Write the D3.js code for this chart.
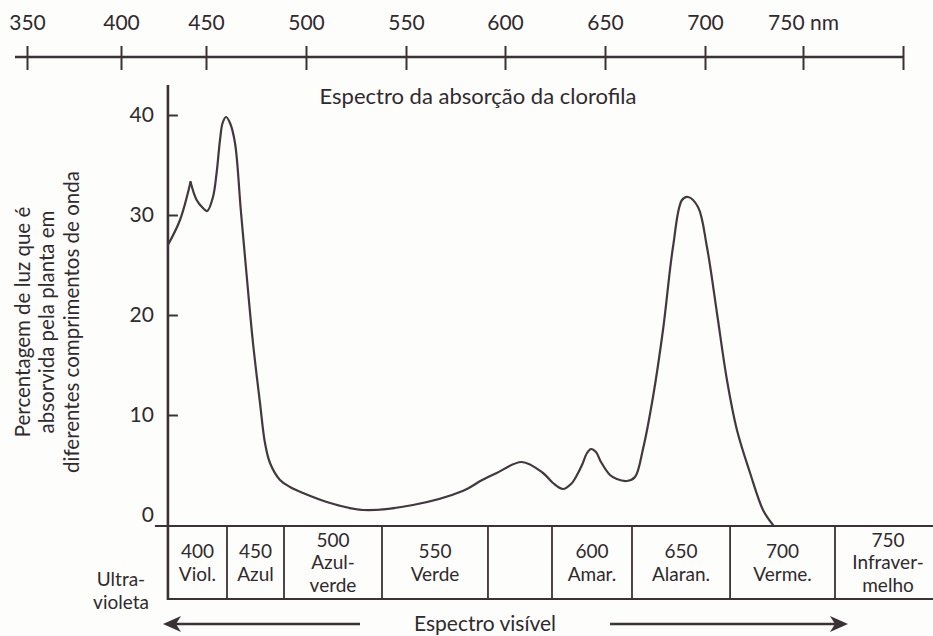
<!DOCTYPE html>
<html>
<head>
<meta charset="utf-8">
<script src="https://cdn.jsdelivr.net/npm/d3@7"></script>
<style>
  html, body { margin: 0; padding: 0; background: #fdfdfc; }
  svg { display: block; }
  text { font-family: Lato, "Open Sans", sans-serif; fill: #2f2a2d; }
</style>
</head>
<body>
<svg id="chart" width="933" height="636"></svg>
<script>
// Top wavelength scale (nm)
const topTicks = [350, 400, 450, 500, 550, 600, 650, 700, 750];
const topTickLabels = ["350", "400", "450", "500", "550", "600", "650", "700", "750 nm"];

// Absorption axis (%)
const yTicks = [0, 10, 20, 30, 40];

// Chlorophyll absorption curve; the violet shoulder ends in a sharp cusp
const cuspWavelength = 440.9;
const wavelengths = [427.6, 434.7, 440.9, 444.5, 448.2, 450.6, 453.5, 455.3, 457.0, 458.3,
  460.0, 462.0, 464.5, 467.4, 470.4, 473.5, 477.0, 479.5, 482.0, 487.0,
  492.0, 498.5, 512.0, 528.5, 553.5, 578.6, 588.5, 595.8, 608.4, 619.0,
  624.0, 629.0, 633.0, 636.0, 638.5, 641.0, 643.0, 645.5, 648.0,
  652.5, 655.9, 660.9, 665.0, 669.0, 674.0, 679.0, 684.0, 688.5, 691.5,
  696.5, 701.0, 706.1, 711.2, 716.3, 723.0, 729.6, 734.7];
const absorption = [27.0, 29.5, 33.3, 31.5, 30.7, 30.4, 31.8, 34.2, 37.5, 39.2,
  39.8, 39.2, 37.2, 30.5, 23.8, 17.2, 11.2, 7.2, 5.2, 3.5,
  2.8, 2.2, 1.2, 0.5, 1.0, 2.4, 3.5, 4.2, 5.3, 4.2,
  3.2, 2.6, 3.1, 4.0, 5.0, 6.2, 6.6, 6.3, 5.3,
  4.0, 3.6, 3.4, 3.8, 6.6, 11.8, 18.5, 26.8, 31.5, 31.8,
  30.8, 26.8, 20.2, 13.5, 8.5, 4.2, 0.5, -1.0];

// Colour bands of the spectrum (edges in nm) and their labels
const bandEdges = [427.6, 460.5, 489, 538, 591.4, 623.5, 663.5, 712.8, 766, 816];
const bandLabels = [
  ["400", "Viol."],
  ["450", "Azul"],
  ["500", "Azul-", "verde"],
  ["550", "Verde"],
  [],
  ["600", "Amar."],
  ["650", "Alaran."],
  ["700", "Verme."],
  ["750", "Infraver-", "melho"]
];
const outsideLabel = ["Ultra-", "violeta"];

const title = "Espectro da absorção da clorofila";
const yTitle = ["Percentagem de luz que é", "absorvida pela planta em", "diferentes comprimentos de onda"];
const visibleLabel = "Espectro visível";

const ink = "#3a3236";
const fontSize = "21px";
const rowFont = "19px";
const rowLeading = 23;
const svg = d3.select("#chart");

// The printed wavelength ruler is not evenly spaced at its short end
const x = d3.scaleLinear()
  .domain([350, 400, 450, 500, 550, 600, 650, 700, 750, 800])
  .range([27, 121, 206, 306, 406, 505, 605, 705, 803, 903]);

const y = d3.scaleLinear().domain([0, 40]).range([515, 115]);

const axisX = x(bandEdges[0]);
const baseY = y(0) + 11;      // top of the band row
const rowBottom = baseY + 73; // bottom of the band row
const arrowY = 624;

// ---- top wavelength axis ----
const topAxisY = 57;
const gTop = svg.append("g").attr("transform", `translate(0,${topAxisY})`);
gTop.append("line")
  .attr("x1", x(350) - 12).attr("x2", x(800))
  .attr("stroke", ink).attr("stroke-width", 2.6);
gTop.call(d3.axisTop(x).tickValues(topTicks.concat([800])).tickSize(11)
    .tickFormat((d, i) => i < topTickLabels.length ? topTickLabels[i] : ""))
  .call(g => g.select(".domain").remove())
  .call(g => g.selectAll(".tick line").attr("y1", 13).attr("stroke", ink).attr("stroke-width", 2))
  .call(g => g.selectAll(".tick text")
      .attr("y", -27).attr("dy", "0")
      .style("font-size", fontSize).style("font-family", "Lato, sans-serif").attr("fill", "#2f2a2d"));

// ---- left absorption axis ----
const gLeft = svg.append("g").attr("transform", `translate(${axisX},0)`);
gLeft.append("line")
  .attr("y1", y(43)).attr("y2", rowBottom + 1)
  .attr("stroke", ink).attr("stroke-width", 2.6);
gLeft.call(d3.axisLeft(y).tickValues(yTicks).tickSize(-10).tickPadding(14))
  .call(g => g.select(".domain").remove())
  .call(g => g.selectAll(".tick line").attr("stroke", ink).attr("stroke-width", 2))
  .call(g => g.selectAll(".tick").filter(d => d === 0).select("line").remove())
  .call(g => g.selectAll(".tick text")
      .style("font-size", fontSize).style("font-family", "Lato, sans-serif").attr("fill", "#2f2a2d"));

// axis title, three rotated lines
const yt = svg.append("text")
  .attr("transform", `translate(47,322) rotate(-90)`)
  .attr("text-anchor", "middle")
  .style("font-size", "20.5px");
yTitle.forEach((t, i) => {
  yt.append("tspan").attr("x", 0).attr("y", (i - 1) * 24.5 + 7).text(t);
});

// chart title
svg.append("text")
  .attr("x", 478).attr("y", 104)
  .attr("text-anchor", "middle")
  .style("font-size", "22px")
  .text(title);

// ---- band row ----
svg.append("line")
  .attr("x1", axisX - 13).attr("x2", 933)
  .attr("y1", baseY).attr("y2", baseY)
  .attr("stroke", ink).attr("stroke-width", 2.2);
svg.append("line")
  .attr("x1", axisX).attr("x2", 933)
  .attr("y1", rowBottom).attr("y2", rowBottom)
  .attr("stroke", ink).attr("stroke-width", 2.2);

svg.append("g").selectAll("line")
  .data(bandEdges.slice(1, -1))
  .join("line")
  .attr("x1", d => x(d)).attr("x2", d => x(d))
  .attr("y1", baseY).attr("y2", rowBottom)
  .attr("stroke", ink).attr("stroke-width", 1.8);

const bandMid = (baseY + rowBottom) / 2;
const bands = svg.append("g").selectAll("text")
  .data(bandLabels.map((lines, i) => ({ lines, x0: bandEdges[i], x1: bandEdges[i + 1] })))
  .join("text")
  .attr("text-anchor", "middle")
  .style("font-size", rowFont);
bands.each(function (d) {
  const cx = d.x1 > 800 ? 888 : (x(d.x0) + x(d.x1)) / 2;
  const n = d.lines.length;
  const lead = n > 2 ? 22.5 : rowLeading;
  d3.select(this).selectAll("tspan")
    .data(d.lines)
    .join("tspan")
    .attr("x", cx)
    .attr("y", (l, i) => bandMid + (i - (n - 1) / 2) * lead + 6.5)
    .text(l => l);
});

// Ultraviolet label left of the axis
svg.append("text")
  .attr("text-anchor", "middle")
  .style("font-size", rowFont)
  .selectAll("tspan")
  .data(outsideLabel)
  .join("tspan")
  .attr("x", 121)
  .attr("y", (l, i) => 586 + i * rowLeading)
  .text(l => l);

// ---- visible spectrum arrows ----
function arrow(xFrom, xTo) {
  const dir = Math.sign(xTo - xFrom);
  svg.append("line")
    .attr("x1", xFrom).attr("x2", xTo - dir * 12)
    .attr("y1", arrowY).attr("y2", arrowY)
    .attr("stroke", ink).attr("stroke-width", 2.4);
  svg.append("path")
    .attr("d", `M${xTo},${arrowY} L${xTo - dir * 18},${arrowY - 8} L${xTo - dir * 13},${arrowY} L${xTo - dir * 18},${arrowY + 8} Z`)
    .attr("fill", ink);
}
arrow(360, 163);
arrow(610, 848);

svg.append("text")
  .attr("x", 485).attr("y", 631)
  .attr("text-anchor", "middle")
  .style("font-size", fontSize)
  .text(visibleLabel);

// ---- absorption curve, drawn in two pieces so the cusp stays sharp ----
const line = d3.line()
  .x(d => x(d[0]))
  .y(d => y(d[1]))
  .curve(d3.curveCatmullRom.alpha(0.5));

const pts = wavelengths.map((w, i) => [w, absorption[i]]);
const pieces = [pts.filter(p => p[0] <= cuspWavelength), pts.filter(p => p[0] >= cuspWavelength)];

svg.append("g").selectAll("path")
  .data(pieces)
  .join("path")
  .attr("d", line)
  .attr("fill", "none")
  .attr("stroke", "#433740")
  .attr("stroke-width", 2.2)
  .attr("stroke-linejoin", "round")
  .attr("stroke-linecap", "round");
</script>
</body>
</html>
